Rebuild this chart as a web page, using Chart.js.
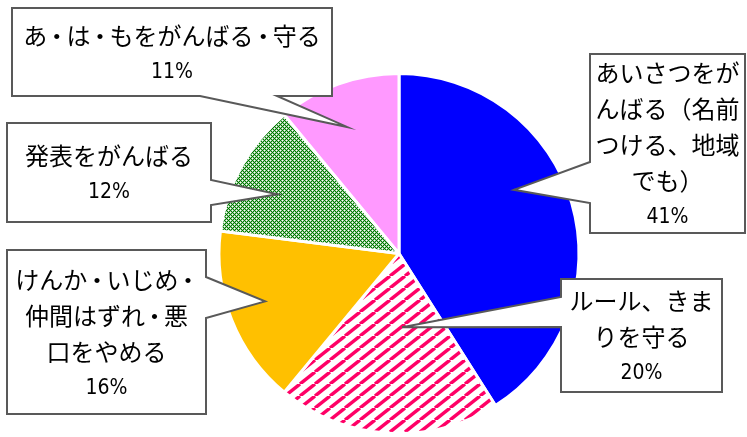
<!DOCTYPE html>
<html lang="ja">
  <head>
    <meta charset="UTF-8" />
    <title>アンケート結果</title>
    <script src="https://cdn.jsdelivr.net/npm/chart.js"></script>
    <style>
      html,
      body {
        margin: 0;
        padding: 0;
        background: #ffffff;
      }
      .chart-container {
        position: relative;
        width: 747px;
        height: 437px;
      }
    </style>
  </head>
  <body>
    <div class="chart-container">
      <canvas id="pieChart"></canvas>
    </div>

    <script>
      // データ
      const categories = [
        ["あいさつをが", "んばる（名前", "つける、地域", "でも）"],
        ["ルール、きま", "りを守る"],
        ["けんか・いじめ・", "仲間はずれ・悪", "口をやめる"],
        ["発表をがんばる"],
        ["あ・は・もをがんばる・守る"],
      ];
      const values = [41, 20, 16, 12, 11];

      // 吹き出しの配置（箱の位置と、指し先の角度ずれ・半径比）
      const callouts = [
        { x: 590, y: 54, w: 155, h: 179, side: "left", a: 162, b: 203, turn: -12.8, frac: 0.73 },
        { x: 561, y: 279, w: 161, h: 113, side: "left", a: 297, b: 327, turn: -6, frac: 0.41 },
        { x: 7, y: 250, w: 199, h: 164, side: "right", a: 277, b: 318, turn: 1.9, frac: 0.79 },
        { x: 7, y: 123, w: 204, h: 99, side: "right", a: 180, b: 205, turn: -2.8, frac: 0.75 },
        { x: 12, y: 8, w: 320, h: 88, side: "bottom", a: 200, b: 277, turn: -2.5, frac: 0.76 },
      ];

      const FONT = '"Noto Sans CJK JP", "Noto Sans", sans-serif';
      const PCT_FONT = '"Liberation Sans Narrow", "DejaVu Sans Condensed", sans-serif';

      function makeStripes() {
        const c = document.createElement("canvas");
        const w = 15,
          h = 12;
        c.width = w;
        c.height = h;
        const g = c.getContext("2d");
        g.fillStyle = "#ffffff";
        g.fillRect(0, 0, w, h);
        g.strokeStyle = "#ff0066";
        g.lineWidth = 3.4;
        for (let k = -1; k <= 1; k++) {
          g.beginPath();
          g.moveTo(k * w, h);
          g.lineTo(k * w + w, 0);
          g.stroke();
        }
        return g.createPattern(c, "repeat");
      }

      function makeDiamonds() {
        const c = document.createElement("canvas");
        c.width = 4;
        c.height = 4;
        const g = c.getContext("2d");
        g.fillStyle = "#ffffff";
        g.fillRect(0, 0, 4, 4);
        for (let x = 0; x < 4; x++) {
          for (let y = 0; y < 4; y++) {
            if ((x + y) % 4 === 0 || (x - y + 4) % 4 === 0) {
              g.fillStyle = x % 2 === 0 ? "#006e00" : "#008000";
              g.fillRect(x, y, 1, 1);
            } else if ((x + y) % 2 === 1) {
              g.fillStyle = "#9ccc9c";
              g.fillRect(x, y, 1, 1);
            }
          }
        }
        return g.createPattern(c, "repeat");
      }

      // 「・」だけ少し詰めて一行を描く
      function drawLine(ctx, text, cx, cy, size) {
        const chars = Array.from(text);
        const widths = chars.map((ch) =>
          ch === "・" ? size * 0.8 : ctx.measureText(ch).width
        );
        const total = widths.reduce((s, v) => s + v, 0);
        let x = cx - total / 2;
        ctx.textAlign = "center";
        chars.forEach((ch, k) => {
          ctx.fillText(ch, x + widths[k] / 2, cy);
          x += widths[k];
        });
      }

      const calloutPlugin = {
        id: "callouts",
        afterDatasetsDraw(chart) {
          const ctx = chart.ctx;
          const arcs = chart.getDatasetMeta(0).data;
          arcs.forEach((arc, i) => {
            const c = callouts[i];
            const mid = (arc.startAngle + arc.endAngle) / 2 + (c.turn * Math.PI) / 180;
            const tx = arc.x + Math.cos(mid) * arc.outerRadius * c.frac;
            const ty = arc.y + Math.sin(mid) * arc.outerRadius * c.frac;
            const x0 = c.x,
              y0 = c.y,
              x1 = c.x + c.w,
              y1 = c.y + c.h;

            ctx.save();
            ctx.beginPath();
            ctx.moveTo(x0, y0);
            ctx.lineTo(x1, y0);
            if (c.side === "right") {
              ctx.lineTo(x1, c.a);
              ctx.lineTo(tx, ty);
              ctx.lineTo(x1, c.b);
            }
            ctx.lineTo(x1, y1);
            if (c.side === "bottom") {
              ctx.lineTo(c.b, y1);
              ctx.lineTo(tx, ty);
              ctx.lineTo(c.a, y1);
            }
            ctx.lineTo(x0, y1);
            if (c.side === "left") {
              ctx.lineTo(x0, c.b);
              ctx.lineTo(tx, ty);
              ctx.lineTo(x0, c.a);
            }
            ctx.closePath();
            ctx.fillStyle = "#ffffff";
            ctx.fill();
            ctx.strokeStyle = "#595959";
            ctx.lineWidth = 2;
            ctx.lineJoin = "miter";
            ctx.stroke();

            // テキスト
            const lines = categories[i].concat([values[i] + "%"]);
            const step = 36;
            const cx = (x0 + x1) / 2;
            const cy = (y0 + y1) / 2 + 1.5;
            ctx.fillStyle = "#000000";
            ctx.textBaseline = "middle";
            lines.forEach((t, j) => {
              const y = cy + (j - (lines.length - 1) / 2) * step;
              if (j === lines.length - 1) {
                ctx.font = "21px " + PCT_FONT;
                ctx.textAlign = "center";
                ctx.fillText(t, cx, y + 1);
              } else {
                ctx.font = "24px " + FONT;
                drawLine(ctx, t, cx, y, 24);
              }
            });
            ctx.restore();
          });
        },
      };

      new Chart(document.getElementById("pieChart"), {
        type: "pie",
        data: {
          labels: categories.map((l) => l.join("")),
          datasets: [
            {
              data: values,
              backgroundColor: ["#0000ff", makeStripes(), "#ffc000", makeDiamonds(), "#ff99ff"],
              borderColor: "#ffffff",
              borderWidth: 3,
              hoverOffset: 0,
            },
          ],
        },
        options: {
          responsive: true,
          maintainAspectRatio: false,
          animation: false,
          layout: {
            padding: { left: 51, right: 0, top: 72, bottom: 2 },
          },
          plugins: {
            legend: { display: false },
            tooltip: { enabled: false },
          },
        },
        plugins: [calloutPlugin],
      });
    </script>
  </body>
</html>
